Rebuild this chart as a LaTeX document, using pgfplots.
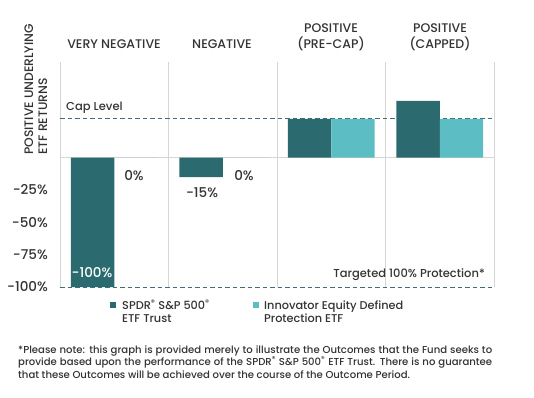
\documentclass[border=0pt]{standalone}
\usepackage{pgfplots}
\pgfplotsset{compat=1.18}
\usepackage{fontspec}
\setmainfont{Poppins Medium}
\definecolor{dteal}{HTML}{2B6B6F}
\definecolor{lteal}{HTML}{5CBDC4}
\definecolor{txt}{HTML}{333333}
\definecolor{gridc}{HTML}{D6D6D6}
\definecolor{dashc}{HTML}{3E6E78}
\begin{document}
\begin{tikzpicture}[x=1pt,y=1pt,every node/.style={text=txt,inner sep=0pt}]
\path (0,0) rectangle (534,397);
\begin{axis}[at={(60pt,110pt)}, anchor=south west, scale only axis,
  width=434pt, height=225pt,
  xmin=0, xmax=4, ymin=-100, ymax=74,
  axis line style={draw=none}, major tick style={draw=none},
  xtick={0,1,2,3,4}, xticklabels={}, xmajorgrids, major grid style={gridc, line width=0.8pt},
  ytick={-100,-75,-50,-25}, yticklabels={-100\%,-75\%,-50\%,-25\%},
  yticklabel style={font=\fontsize{13.5}{15}\selectfont, text=txt, anchor=east, xshift=-12pt},
  ybar=0pt, bar width=0.4, clip=false]
\draw[gridc, line width=0.8pt] (axis cs:0,0) -- (axis cs:4,0);
\draw[dashc, line width=0.9pt, dash pattern=on 4.5pt off 3pt] (axis cs:0,30) -- (axis cs:4,30);
\addplot[fill=dteal, draw=none] coordinates {(0.5,-100) (1.5,-15) (2.5,30) (3.5,44)};
\addplot[fill=lteal, draw=none] coordinates {(0.5,0) (1.5,0) (2.5,30) (3.5,30)};
\draw[dashc, line width=0.9pt, dash pattern=on 4.5pt off 3pt] (axis cs:0,-100) -- (axis cs:4,-100);
\end{axis}
\begin{scope}[every node/.append style={font=\fontsize{12.3}{14}\selectfont, rotate=90, anchor=base west}]
\node at (33,242) {POSITIVE UNDERLYING};
\node at (47,242) {ETF RETURNS};
\end{scope}
\begin{scope}[every node/.append style={font=\fontsize{12.5}{15}\selectfont, anchor=base}]
\node at (114,348) {VERY NEGATIVE};
\node at (222,348) {NEGATIVE};
\node at (331,364) {POSITIVE};
\node at (331,348) {(PRE-CAP)};
\node at (440,364) {POSITIVE};
\node at (440,348) {(CAPPED)};
\end{scope}
\begin{scope}[every node/.append style={font=\fontsize{11.5}{14}\selectfont, anchor=base}]
\node[anchor=base west] at (66,287) {Cap Level};
\node[anchor=base east] at (485,120) {Targeted 100\% Protection*};
\end{scope}
\begin{scope}[every node/.append style={font=\fontsize{13.5}{15}\selectfont, anchor=base}]
\node at (134,217) {0\%};
\node at (244,217) {0\%};
\node at (202,200) {-15\%};
\node[text=white] at (92,120) {-100\%};
\end{scope}
\fill[dteal] (110,89) rectangle (116,95);
\fill[lteal] (253,89) rectangle (259,95);
\begin{scope}[every node/.append style={font=\fontsize{11.3}{14}\selectfont, anchor=base west}]
\node at (122,88) {SPDR\textsuperscript{\textregistered} S\&P 500\textsuperscript{\textregistered}};
\node at (122,75) {ETF Trust};
\node at (264,88) {Innovator Equity Defined};
\node at (264,75) {Protection ETF};
\end{scope}
\begin{scope}[every node/.append style={font=\fontsize{10.1}{12}\selectfont, anchor=base west}]
\node at (18,44) {\makebox[474pt][s]{*Please note: this graph is provided merely to illustrate the Outcomes that the Fund seeks to}};
\node at (18,32) {\makebox[474pt][s]{provide based upon the performance of the SPDR\textsuperscript{\textregistered} S\&P 500\textsuperscript{\textregistered} ETF Trust. There is no guarantee}};
\node at (18,19) {that these Outcomes will be achieved over the course of the Outcome Period.};
\end{scope}
\end{tikzpicture}
\end{document}
